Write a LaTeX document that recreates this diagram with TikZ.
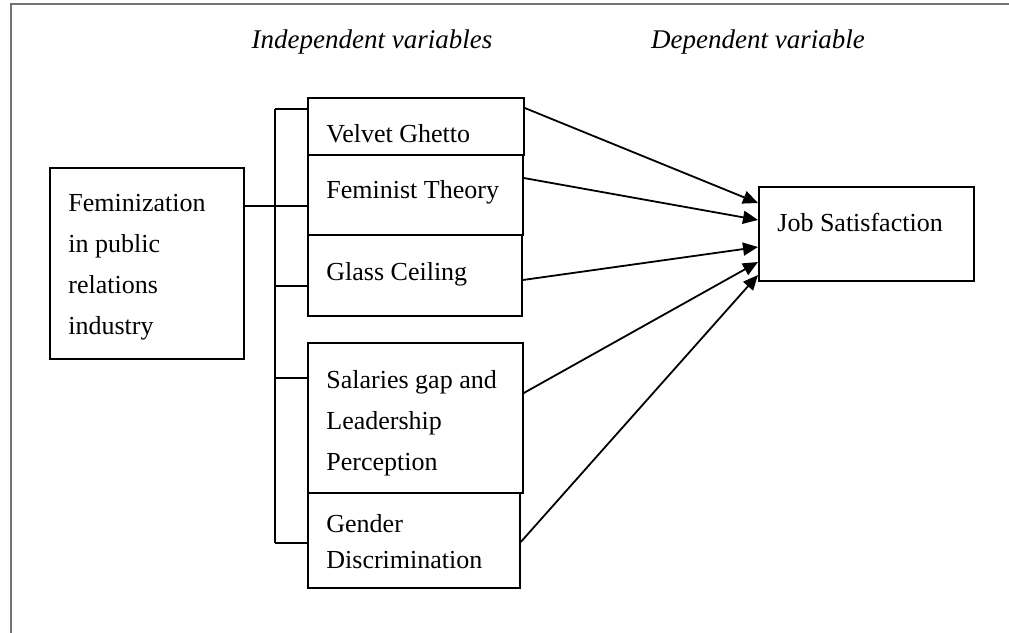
\documentclass[tikz,border=0pt]{standalone}
\usepackage{fontspec}
\setmainfont{Liberation Serif}
\usetikzlibrary{arrows.meta, calc}

\begin{document}
\begin{tikzpicture}[x=0.5pt, y=-0.5pt, >={Triangle[length=7.5pt, width=6.5pt]},
  every node/.style={font=\fontsize{13pt}{20.5pt}\selectfont},
  box/.style={draw, line width=0.9pt, inner sep=0pt, anchor=north west},
  txt/.style={anchor=north west, inner sep=0pt, align=left},
  link/.style={line width=0.9pt},
  frame/.style={draw=black!55, line width=0.75pt}]
  \useasboundingbox (0,0) rectangle (1009,633);
  \draw[frame] (11,633) -- (11,4) -- (1009,4);
  \node[font=\fontsize{13.5pt}{15pt}\selectfont\itshape] (indep) at (372,42) {Independent variables};
  \node[font=\fontsize{13.5pt}{15pt}\selectfont\itshape] (dep) at (758,42) {Dependent variable};
  \node[box, minimum width=97pt, minimum height=95.5pt] (fem) at (49,167) {};
  \node[box, minimum width=108pt, minimum height=28.5pt] (velvet) at (307,97) {};
  \node[box, minimum width=107.5pt, minimum height=40pt] (feminist) at (307,154) {};
  \node[box, minimum width=107pt, minimum height=40.5pt] (glass) at (307,234) {};
  \node[box, minimum width=107.5pt, minimum height=75pt] (salaries) at (307,342) {};
  \node[box, minimum width=106pt, minimum height=47.5pt] (gender) at (307,492) {};
  \node[box, minimum width=107.5pt, minimum height=47pt] (job) at (758,186) {};
  \node[txt] (femT) at (68,194) {Feminization\\in public\\relations\\industry};
  \node[txt] (velvetT) at (326,124) {Velvet Ghetto};
  \node[txt] (feministT) at (326,180) {Feminist Theory};
  \node[txt] (glassT) at (326,262) {Glass Ceiling};
  \node[txt] (salariesT) at (326,370) {Salaries gap and\\Leadership\\Perception};
  \node[txt, font=\fontsize{13pt}{18pt}\selectfont] (genderT) at (326,514) {Gender\\Discrimination};
  \node[txt] (jobT) at (777,213) {Job Satisfaction};
  \draw[link] ($(velvet.north west)+(-32,12)$) -- ($(gender.north west)+(-32,51)$);
  \draw[link] ($(fem.north east)+(0,39)$) -- ($(feminist.north west)+(-32,52)$);
  \foreach \b/\d in {velvet/12, feminist/52, glass/52, salaries/36, gender/51}
    \draw[link] ($(\b.north west)+(0,\d)$) -- ++(-32,0);
  \draw[link, ->] ($(velvet.north east)+(0,11)$) -- ($(job.north west)+(0,17)$);
  \draw[link, ->] ($(feminist.north east)+(0,24)$) -- ($(job.north west)+(0,34)$);
  \draw[link, ->] ($(glass.north east)+(0,46)$) -- ($(job.north west)+(0,61)$);
  \draw[link, ->] ($(salaries.north east)+(0,51)$) -- ($(job.north west)+(0,76)$);
  \draw[link, ->] ($(gender.north east)+(0,50)$) -- ($(job.north west)+(0,89)$);
\end{tikzpicture}
\end{document}
